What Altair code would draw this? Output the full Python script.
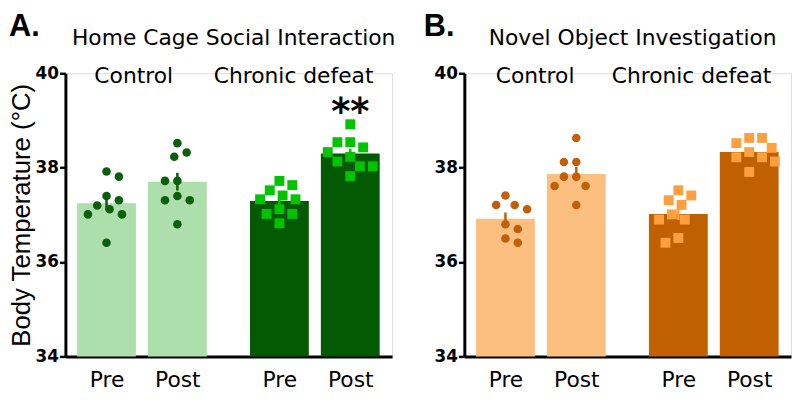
import altair as alt
import pandas as pd
import numpy as np

# ---- values (body temperature, deg C) ----
home_ctrl_pre = [37.92, 37.81, 37.40, 37.31, 37.20, 37.12, 37.01, 37.01, 36.41]
home_ctrl_post = [38.52, 38.32, 38.23, 37.72, 37.72, 37.40, 37.31, 37.31, 36.80]
home_cd_pre = [37.72, 37.63, 37.52, 37.41, 37.33, 37.33, 37.12, 37.02, 37.02, 36.82]
home_cd_post = [38.92, 38.54, 38.54, 38.43, 38.33, 38.23, 38.13, 38.03, 38.03, 37.82]

novel_ctrl_pre = [37.41, 37.21, 37.21, 37.12, 36.80, 36.70, 36.50, 36.41]
novel_ctrl_post = [38.63, 38.12, 38.12, 37.81, 37.81, 37.61, 37.61, 37.21]
novel_cd_pre = [37.52, 37.41, 37.31, 37.21, 37.01, 36.90, 36.90, 36.51, 36.41]
novel_cd_post = [38.63, 38.63, 38.52, 38.42, 38.33, 38.22, 38.22, 38.13, 37.91]

phases = ["Pre", "Post"]
groups = ["Control", "Chronic defeat"]
titles = ["Home Cage Social Interaction", "Novel Object Investigation"]
letters = ["A.", "B."]
y_ticks = [34, 36, 38, 40]
y_title = "Body Temperature (°C)"
signif = "**"

# ---- layout / style constants ----
FONT = "DejaVu Sans"
FONT2 = "Liberation Sans"
W, H = 330, 286
XDOM = [-0.58, 4.03]
YDOM = [34, 40]
GROUP_SHIFT = 2.44
BAR_HALF = 0.415
PPU_X = W / (XDOM[1] - XDOM[0])
PPU_Y = H / (YDOM[1] - YDOM[0])

palettes = [
    dict(light="#addfad", light_pts="#0b5e0b", dark="#035a03", dark_pts="#00c400"),
    dict(light="#fdbf80", light_pts="#c0600a", dark="#c06000", dark_pts="#ffa040"),
]


def swarm_offsets(vals, diam):
    step = diam / 4.0
    placed = []
    offs = [0.0] * len(vals)
    order = sorted(range(len(vals)), key=lambda i: -vals[i])
    ks = [0]
    for k in range(1, 40):
        ks += [-k, k]
    for n, i in enumerate(order):
        yp = vals[i] * PPU_Y
        cand = ks if n % 2 == 0 else [-k for k in ks]
        xp = 0.0
        for k in cand:
            xp = k * step
            if all((xp - a) ** 2 + (yp - b) ** 2 >= diam ** 2 - 1e-9 for a, b in placed):
                break
        placed.append((xp, yp))
        offs[i] = xp / PPU_X
    return offs


def build(lists):
    rows = []
    for gi, g in enumerate(groups):
        for pi, p in enumerate(phases):
            vals = lists[gi][pi]
            pos = pi + gi * GROUP_SHIFT
            offs = swarm_offsets(vals, 12.5 if gi == 0 else 13.0)
            for v, o in zip(vals, offs):
                rows.append(dict(group=g, phase=p, pos=pos, value=v, xp=pos + o))
    pts = pd.DataFrame(rows)
    summ = (
        pts.groupby(["group", "phase", "pos"], sort=False)["value"]
        .agg(mean="mean", sd="std", n="count")
        .reset_index()
    )
    summ["sem"] = summ["sd"] / np.sqrt(summ["n"])
    return pts, summ


tick_pos = [pi + gi * GROUP_SHIFT for gi in range(2) for pi in range(2)]
tick_lab = [p for _ in groups for p in phases]
label_expr = "[" + ",".join("'%s'" % t for t in tick_lab) + "][indexof([" + ",".join(
    repr(v) for v in tick_pos) + "], datum.value)]"

xscale = alt.Scale(domain=XDOM, nice=False, zero=False)
yscale = alt.Scale(domain=YDOM, nice=False, zero=False)
xaxis = alt.Axis(
    values=tick_pos, labelExpr=label_expr, ticks=False, tickSize=0, labelPadding=30,
    labelBaseline="alphabetic", labelFontSize=22, labelFont=FONT, labelColor="black",
    domainWidth=3, domainColor="black", grid=False, title=None, labelFlush=False,
    labelOverlap=False,
)


def yaxis(show_title):
    kw = dict(
        values=y_ticks, tickSize=6, tickWidth=2.5, tickColor="black", labelFontSize=17,
        labelFontWeight="bold", labelFont=FONT, labelColor="black", labelPadding=1,
        domainWidth=3, domainColor="black", grid=False,
    )
    if show_title:
        kw.update(title=y_title, titleFont=FONT2, titleFontSize=26, titleFontWeight="normal",
                  titleColor="black", titleX=-31)
    else:
        kw.update(title=None)
    return alt.Axis(**kw)


def text_layer(txt, x, y, size, bold=False, font=FONT, align="center"):
    return alt.Chart(pd.DataFrame({"t": [txt]})).mark_text(
        font=font, fontSize=size, fontWeight="bold" if bold else "normal",
        align=align, baseline="alphabetic", color="black",
    ).encode(text="t:N", x=alt.value(x), y=alt.value(y))


def panel(idx, lists, show_title, text_pos):
    pal = palettes[idx]
    pts, summ = build(lists)
    ya = yaxis(show_title)
    X = lambda f: alt.X(f, type="quantitative", scale=xscale, axis=xaxis)
    Y = lambda f: alt.Y(f, type="quantitative", scale=yscale, axis=ya)
    layers = []
    for gi, g in enumerate(groups):
        bar_col = pal["light"] if gi == 0 else pal["dark"]
        pt_col = pal["light_pts"] if gi == 0 else pal["dark_pts"]
        s = summ[summ["group"] == g]
        p = pts[pts["group"] == g]
        bars = alt.Chart(s).transform_calculate(
            lo="datum.pos - %f" % BAR_HALF, hi="datum.pos + %f" % BAR_HALF
        ).mark_bar(color=bar_col, opacity=1).encode(
            x=X("lo"), x2="hi", y=Y("mean"), y2=alt.datum(YDOM[0])
        )
        shape = "circle" if gi == 0 else "square"
        size = 75 if gi == 0 else 100
        dots = alt.Chart(p).mark_point(
            filled=True, shape=shape, size=size, color=pt_col, opacity=1, strokeWidth=0
        ).encode(x=X("xp"), y=Y("value"))
        errs = alt.Chart(s).transform_calculate(
            e_lo="datum.mean - datum.sem", e_hi="datum.mean + datum.sem"
        ).mark_rule(color=pt_col, strokeWidth=2.5).encode(
            x=X("pos"), y=Y("e_lo"), y2="e_hi"
        )
        layers += [bars, dots, errs]
    tp = text_pos
    layers.append(text_layer(letters[idx], tp["letter"], -38, 31, bold=True, font=FONT2,
                             align="left"))
    layers.append(text_layer(titles[idx], 170, -29, 22))
    layers.append(text_layer(groups[0], tp["ctrl"], 10, 22))
    layers.append(text_layer(groups[1], tp["cd"], 10, 22))
    return alt.layer(*layers).properties(width=W, height=H)


panel_a = panel(0, [[home_ctrl_pre, home_ctrl_post], [home_cd_pre, home_cd_post]], True,
                dict(letter=-57, ctrl=69, cd=230.5))
star = alt.Chart(pd.DataFrame({"t": [signif], "pos": [tick_pos[3]]})).mark_text(
    font=FONT, fontSize=37, fontWeight="bold", align="center", baseline="alphabetic",
    color="black",
).encode(x=alt.X("pos:Q", scale=xscale, axis=xaxis), text="t:N", y=alt.value(51))
panel_a = alt.layer(panel_a, star)

panel_b = panel(1, [[novel_ctrl_pre, novel_ctrl_post], [novel_cd_pre, novel_cd_post]], False,
                dict(letter=-41, ctrl=71.5, cd=229.5))

chart = alt.hconcat(panel_a, panel_b, spacing=73, bounds="flush").properties(
    padding={"left": 0, "top": 0, "right": 0, "bottom": 0}
).configure_view(stroke=None).configure(background="white")

chart.save("out.html", embed_options={"renderer": "svg", "actions": False})
